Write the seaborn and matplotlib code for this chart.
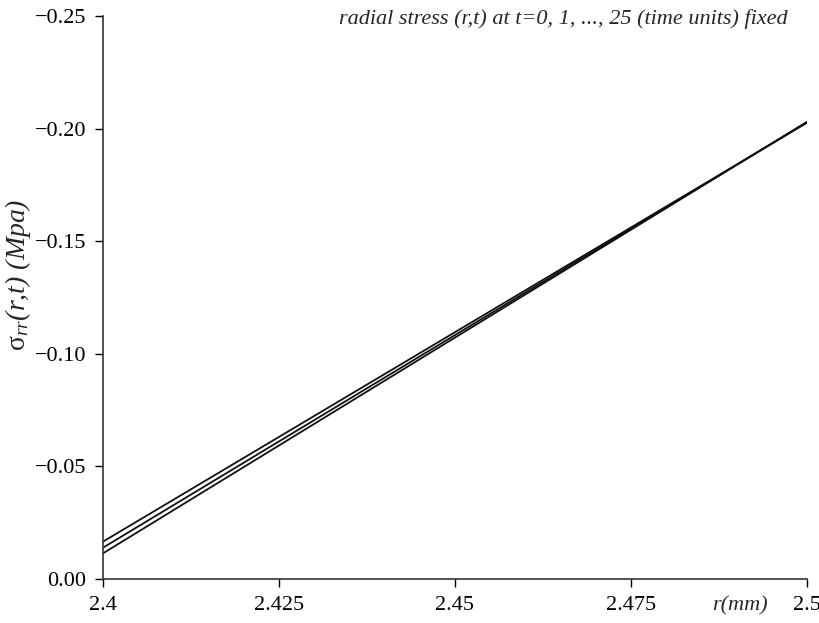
import numpy as np
import pandas as pd
import matplotlib
matplotlib.use("Agg")
import matplotlib.pyplot as plt
import seaborn as sns

# radial positions (mm)
r_mm = [2.4, 2.425, 2.45, 2.475, 2.5]
# radial stress sigma_rr (MPa) for the three time curves
sigma_t0 = [-0.0166, -0.0631, -0.1096, -0.1561, -0.2026]
sigma_t1 = [-0.0139, -0.0611, -0.1083, -0.1556, -0.2028]
sigma_t25 = [-0.0114, -0.0593, -0.1072, -0.1551, -0.2030]
curve_names = ["t=0", "t=1", "t=25"]

x_ticks = [2.4, 2.425, 2.45, 2.475, 2.5]
x_tick_labels = ["2.4", "2.425", "2.45", "2.475", "2.5"]
y_ticks = [0.0, -0.05, -0.10, -0.15, -0.20, -0.25]

df = pd.DataFrame({
    "r": r_mm * 3,
    "sigma": sigma_t0 + sigma_t1 + sigma_t25,
    "curve": sum([[n] * len(r_mm) for n in curve_names], []),
})

sns.set_style("ticks")
plt.rcParams["font.family"] = ["Liberation Serif", "DejaVu Serif"]
plt.rcParams["mathtext.fontset"] = "custom"
plt.rcParams["mathtext.rm"] = "Liberation Serif"
plt.rcParams["mathtext.it"] = "Liberation Serif:italic"

fig = plt.figure(figsize=(8.2, 6.23), dpi=100)
ax = fig.add_axes([0.1256, 0.0706, 0.8585, 0.9037])

sns.lineplot(data=df, x="r", y="sigma", hue="curve",
             palette=["#111111"] * 3, linewidth=1.3, legend=False, ax=ax)

ax.set_xlim(2.4, 2.5)
ax.set_ylim(0.0, -0.25)
ax.set_xticks(x_ticks)
ax.set_xticklabels(x_tick_labels)
ax.set_yticks(y_ticks)
ax.set_yticklabels([f"{v:.2f}".replace("-", "\u2212") for v in y_ticks])
ax.tick_params(axis="both", direction="out", length=6, width=1.0,
               labelsize=16, colors="black", pad=6)
for side in ["left", "bottom"]:
    ax.spines[side].set_linewidth(1.2)
    ax.spines[side].set_color("#333333")
sns.despine(ax=ax)

ax.set_xlabel("r(mm)", fontsize=16, style="italic")
ax.xaxis.set_label_coords(0.905, -0.03)
ax.set_ylabel(r"$\mathrm{σ}_{rr}$(r,t) (Mpa)", fontsize=20, style="italic")
ax.yaxis.set_label_coords(-0.10, 0.54)

ax.text(0.972, 0.994, "radial stress (r,t) at t=0, 1, ..., 25 (time units) fixed",
        transform=ax.transAxes, ha="right", va="center",
        fontsize=16, style="italic")

fig.savefig("out.png", dpi=100)
